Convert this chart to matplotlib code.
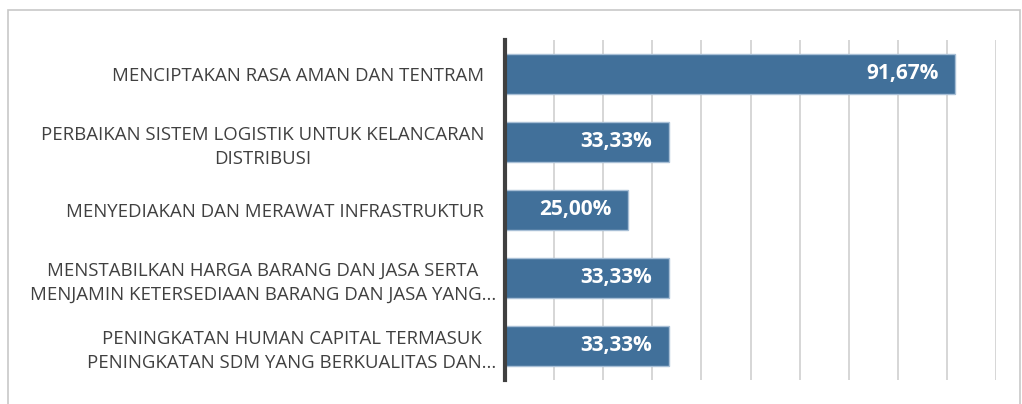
import matplotlib
matplotlib.use("Agg")
from matplotlib import pyplot as plt
from matplotlib.patches import Rectangle
from matplotlib.transforms import ScaledTranslation

categories = [
    "MENCIPTAKAN RASA AMAN DAN TENTRAM",
    "PERBAIKAN SISTEM LOGISTIK UNTUK KELANCARAN\nDISTRIBUSI",
    "MENYEDIAKAN DAN MERAWAT INFRASTRUKTUR",
    "MENSTABILKAN HARGA BARANG DAN JASA SERTA\nMENJAMIN KETERSEDIAAN BARANG DAN JASA YANG...",
    "PENINGKATAN HUMAN CAPITAL TERMASUK\nPENINGKATAN SDM YANG BERKUALITAS DAN...",
]
values = [91.67, 33.33, 25.00, 33.33, 33.33]

W, H = 1022, 404
fig = plt.figure(figsize=(W / 100, H / 100), dpi=100)
plt.rcParams['font.family'] = ['Open Sans', 'DejaVu Sans']

# outer chart border
fig.patches.append(Rectangle((8 / W, -0.05), 1012 / W, 1.05 - 10 / H, transform=fig.transFigure,
                             fill=False, edgecolor='#c8c8c8', linewidth=1.2))

ax = fig.add_axes([505 / W, 1 - 380 / H, 491 / W, 340 / H])
ypos = list(range(len(categories)))
ax.barh(ypos, values, height=0.6, color='#41709a', edgecolor='#a8bfd6', linewidth=1.0, zorder=3)
ax.set_xlim(0, 100)
ax.set_ylim(len(categories) - 0.5, -0.5)
ax.set_xticks(range(0, 101, 10))
ax.xaxis.grid(True, color='#cfcfcf', linewidth=1.2, zorder=0)
ax.tick_params(axis='x', bottom=False, labelbottom=False)
ax.set_yticks(ypos)
ax.set_yticklabels(categories, fontsize=13.4, color='#404040', linespacing=1.4)
ax.tick_params(axis='y', length=0, pad=15)
for lab in ax.get_yticklabels():
    lab.set_multialignment('center')
    if lab.get_text().endswith('...'):
        # truncated labels run closer to the axis
        lab.set_transform(lab.get_transform() + ScaledTranslation(0.12, 0, fig.dpi_scale_trans))
for s in ['top', 'right', 'bottom']:
    ax.spines[s].set_visible(False)
ax.spines['left'].set_color('#404040')
ax.spines['left'].set_linewidth(3)
ax.spines['left'].set_zorder(4)

for y, v in zip(ypos, values):
    ax.text(v - 3.3, y, f"{v:.2f}%".replace('.', ','), ha='right', va='center',
            color='white', fontsize=15, fontweight='bold', zorder=5)

fig.savefig('out.png', dpi=100)
